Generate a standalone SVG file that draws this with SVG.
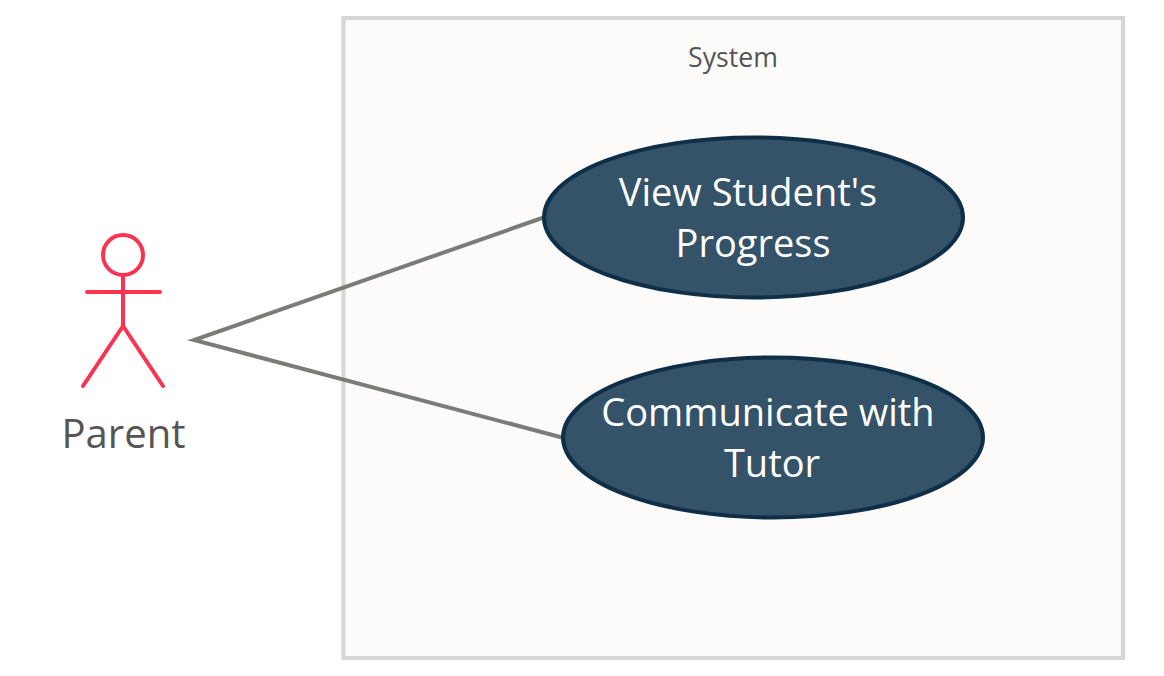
<svg xmlns="http://www.w3.org/2000/svg" width="1164" height="676" viewBox="0 0 1164 676">
<style>
text{font-family:"Open Sans","Noto Sans",sans-serif;text-anchor:middle}
.uc{fill:#345268;stroke:#0f2e48;stroke-width:4}
.uct{fill:#fff;font-size:38px}
.act{fill:none;stroke:#fb3350;stroke-width:4;stroke-linecap:round;stroke-linejoin:round}
.conn{fill:none;stroke:#7b7b78;stroke-width:4}
</style>
<rect width="1164" height="676" fill="#fff"/>
<g id="system">
<rect x="343.500" y="18" width="779.500" height="640" fill="#fcfbfa" stroke="#d6d6d6" stroke-width="4"/>
<text x="733" y="67" font-size="26.700" fill="#555">System</text>
</g>
<g id="connectors">
<path class="conn" d="M545 217L194 340L564 438"/>
</g>
<g id="actor-parent">
<circle class="act" cx="123" cy="255" r="20"/>
<path class="act" d="M123 275V326M87 292H160M123 326L83 386M123 326L163 386"/>
<text x="123.500" y="448" font-size="40" fill="#555">Parent</text>
</g>
<g id="usecase-progress">
<ellipse class="uc" cx="753.500" cy="217.500" rx="209.500" ry="80"/>
<text class="uct" x="748" y="206">View Student's</text>
<text class="uct" x="753" y="257">Progress</text>
</g>
<g id="usecase-communicate">
<ellipse class="uc" cx="773" cy="437.500" rx="210" ry="80"/>
<text class="uct" x="768" y="426">Communicate with</text>
<text class="uct" x="772" y="477">Tutor</text>
</g>
</svg>
